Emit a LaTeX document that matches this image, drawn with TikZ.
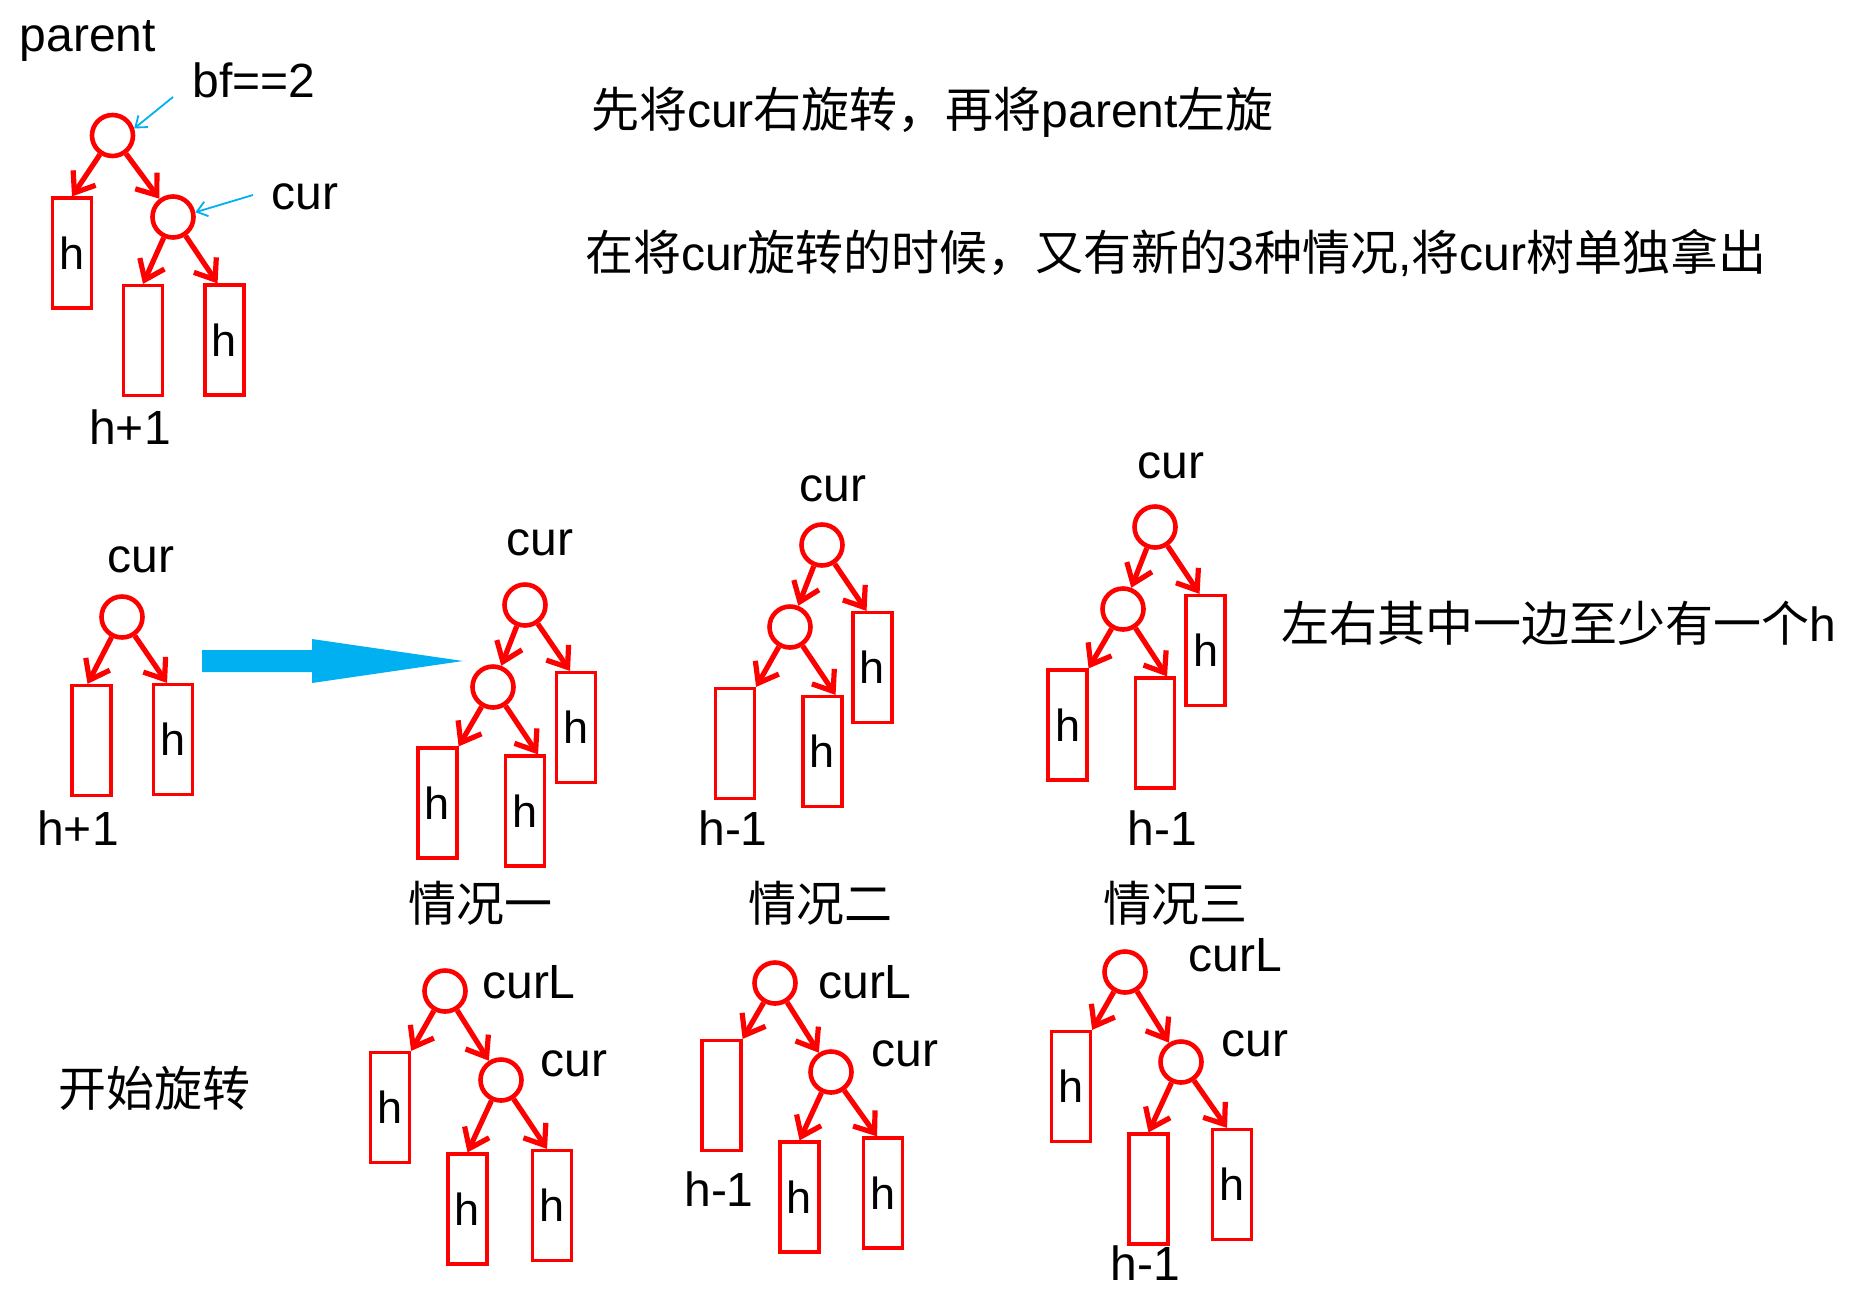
\documentclass[tikz,border=0pt]{standalone}
\usepackage{fontspec}
\setmainfont{Liberation Sans}
\newfontfamily\zhfont{Noto Sans CJK SC}
\usetikzlibrary{arrows.meta}
\definecolor{treered}{HTML}{FF0000}
\definecolor{hintblue}{HTML}{00B0F0}
\newcommand\zh[1]{{\zhfont#1}}

\begin{document}
\begin{tikzpicture}[
        x=1pt,y=-1pt,
        font=\fontsize{48}{56}\selectfont,
        nd/.style={circle,draw=treered,line width=4.6pt,minimum size=41pt,inner sep=0pt},
        sub/.style={draw=treered,line width=3.2pt,minimum width=39pt,minimum height=110pt,
                    inner sep=0pt,font=\fontsize{45}{52}\selectfont},
        note/.style={anchor=west,inner sep=0pt},
        edgeR/.style={-{Straight Barb[length=18pt,width=27pt]},treered,line width=5.2pt},
        hint/.style={-{Straight Barb[length=10pt,width=15pt]},hintblue,line width=1.8pt}
      ]
        \useasboundingbox (0,0) rectangle (1854,1302);
        \node[nd] (par) at (112.5,135.5) {};
        \node[nd] (cur0) at (173,217) {};
        \node[sub] (par-l) at (72,253) {h};
        \node[sub] (cur0-l) at (143,340.5) {};
        \node[sub] (cur0-r) at (224.5,340) {h};
        \node (parlbl) at (88,41) {parent};
        \node (bflbl) at (254,80) {bf==2};
        \node (cur0lbl) at (305,197) {cur};
        \node (hp1a) at (130,427) {h+1};
        \coordinate (bftail) at (173,97);
        \coordinate (curtail) at (253,195);
        \draw[edgeR] (par) -- (par-l.north);
        \draw[edgeR] (par) -- (cur0);
        \draw[edgeR] (cur0) -- (cur0-l.north);
        \draw[edgeR] (cur0) -- (cur0-r.97);
        \draw[hint] (bftail) -- (par.18);
        \draw[hint] (curtail) -- (cur0.12);

        \node[note] (note1) at (591,112) {\zh{先将}cur\zh{右旋转，再将}parent\zh{左旋}};
        \node[note] (note2) at (585,253) {\zh{在将}cur\zh{旋转的时候，又有新的}3\zh{种情况},\zh{将}cur\zh{树单独拿出}};
        \node[note] (note3) at (1281,623) {\zh{左右其中一边至少有一个}h};

        \node[nd] (cur1) at (122,617) {};
        \node[sub] (cur1-l) at (91.5,740.5) {};
        \node[sub] (cur1-r) at (173,739.5) {h};
        \node (cur1lbl) at (141,560) {cur};
        \node (hp1b) at (78,828) {h+1};
        \draw[edgeR] (cur1) -- (cur1-l.94);
        \draw[edgeR] (cur1) -- (cur1-r.96);
        \fill[hintblue] (202,650) -- (312,650) -- (312,639) -- (463,661)
          -- (312,683) -- (312,672) -- (202,672) -- cycle;

        \node[nd] (cur2) at (525,605) {};
        \node[nd] (sub2) at (493,687) {};
        \node[sub] (cur2-r) at (576,727.5) {h};
        \node[sub] (sub2-l) at (437.5,803) {h};
        \node[sub] (sub2-r) at (525,811) {h};
        \node (cur2lbl) at (540,543) {cur};
        \node (case1) at (480,903) {\zh{情况一}};
        \draw[edgeR] (cur2) -- (sub2);
        \draw[edgeR] (cur2) -- (cur2-r.96);
        \draw[edgeR] (sub2) -- (sub2-l.north east);
        \draw[edgeR] (sub2) -- (sub2-r.77);

        \node[nd] (cur3) at (822,545) {};
        \node[nd] (sub3) at (790,627) {};
        \node[sub] (cur3-r) at (872.5,667.5) {h};
        \node[sub] (sub3-l) at (735,743.5) {};
        \node[sub] (sub3-r) at (822.5,751.5) {h};
        \node (cur3lbl) at (833,489) {cur};
        \node (hm1a) at (733,828) {h-1};
        \node (case2) at (820,903) {\zh{情况二}};
        \draw[edgeR] (cur3) -- (sub3);
        \draw[edgeR] (cur3) -- (cur3-r.96);
        \draw[edgeR] (sub3) -- (sub3-l.north east);
        \draw[edgeR] (sub3) -- (sub3-r.77);

        \node[nd] (cur4) at (1155,527) {};
        \node[nd] (sub4) at (1123,609) {};
        \node[sub] (cur4-r) at (1205.5,650.5) {h};
        \node[sub] (sub4-l) at (1067.5,725) {h};
        \node[sub] (sub4-r) at (1155,733) {};
        \node (cur4lbl) at (1171,466) {cur};
        \node (hm1b) at (1162,828) {h-1};
        \node (case3) at (1175,903) {\zh{情况三}};
        \draw[edgeR] (cur4) -- (sub4);
        \draw[edgeR] (cur4) -- (cur4-r.96);
        \draw[edgeR] (sub4) -- (sub4-l.north east);
        \draw[edgeR] (sub4) -- (sub4-r.78);

        \node (startlbl) at (154,1088) {\zh{开始旋转}};

        \node[nd] (curL5) at (445,991) {};
        \node[nd] (cur5) at (501,1080) {};
        \node[sub] (curL5-l) at (390,1107.5) {h};
        \node[sub] (cur5-l) at (467.5,1209) {h};
        \node[sub] (cur5-r) at (552,1205.5) {h};
        \node (curL5lbl) at (529,982) {curL};
        \node (cur5lbl) at (574,1064) {cur};
        \draw[edgeR] (curL5) -- (curL5-l.north east);
        \draw[edgeR] (curL5) -- (cur5);
        \draw[edgeR] (cur5) -- (cur5-l.north);
        \draw[edgeR] (cur5) -- (cur5-r.95);

        \node[nd] (curL6) at (775,983) {};
        \node[nd] (cur6) at (831,1072) {};
        \node[sub] (curL6-l) at (721.5,1095.5) {};
        \node[sub] (cur6-l) at (799.5,1197) {h};
        \node[sub] (cur6-r) at (883,1193) {h};
        \node (curL6lbl) at (865,982) {curL};
        \node (cur6lbl) at (905,1054) {cur};
        \node (hm1c) at (719,1189) {h-1};
        \draw[edgeR] (curL6) -- (curL6-l.north east);
        \draw[edgeR] (curL6) -- (cur6);
        \draw[edgeR] (cur6) -- (cur6-l.north);
        \draw[edgeR] (cur6) -- (cur6-r.96);

        \node[nd] (curL7) at (1125,972) {};
        \node[nd] (cur7) at (1181,1062) {};
        \node[sub] (curL7-l) at (1071,1086.5) {h};
        \node[sub] (cur7-l) at (1148.5,1189) {};
        \node[sub] (cur7-r) at (1232,1184.5) {h};
        \node (curL7lbl) at (1235,955) {curL};
        \node (cur7lbl) at (1255,1044) {cur};
        \node (hm1d) at (1145,1263) {h-1};
        \draw[edgeR] (curL7) -- (curL7-l.north east);
        \draw[edgeR] (curL7) -- (cur7);
        \draw[edgeR] (cur7) -- (cur7-l.north);
        \draw[edgeR] (cur7) -- (cur7-r.95);
      \end{tikzpicture}
\end{document}
